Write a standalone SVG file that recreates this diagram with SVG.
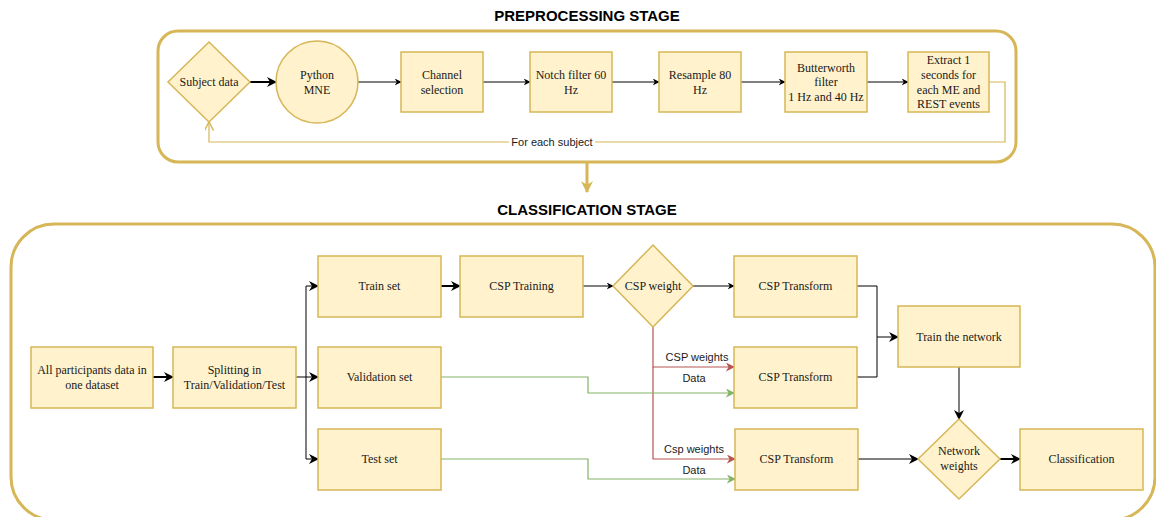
<svg xmlns="http://www.w3.org/2000/svg" width="1156" height="517" viewBox="0 0 1156 517">
<style>
.box{fill:#fff2cc;stroke:#d6b656;stroke-width:1.5}
.t{font-family:"Liberation Serif","Times New Roman",serif;font-size:12px;fill:#1a1a1a;text-anchor:middle}
.s{font-family:"Liberation Sans",Arial,sans-serif;font-size:11px;fill:#1a1a1a;text-anchor:middle}
.h{font-family:"Liberation Sans",Arial,sans-serif;font-size:15px;font-weight:bold;fill:#000;text-anchor:middle}
.stage{fill:none;stroke:#d6b656;stroke-width:3}
.k{fill:none;stroke:#000;stroke-width:1}
.kb{fill:none;stroke:#000;stroke-width:2}
.r{fill:none;stroke:#b85450;stroke-width:1.2}
.g{fill:none;stroke:#82b366;stroke-width:1.2}
.y{fill:none;stroke:#d6b656;stroke-width:1.2}
</style>
<defs>
<marker id="ak" viewBox="0 0 10 10" refX="9" refY="5" markerWidth="7" markerHeight="7" markerUnits="userSpaceOnUse" orient="auto"><path d="M0,0 L10,5 L0,10 L3,5 Z" fill="#000"/></marker>
<marker id="akb" viewBox="0 0 10 10" refX="9" refY="5" markerWidth="10" markerHeight="10" markerUnits="userSpaceOnUse" orient="auto"><path d="M0,0 L10,5 L0,10 L3,5 Z" fill="#000"/></marker>
<marker id="ar" viewBox="0 0 10 10" refX="9" refY="5" markerWidth="9" markerHeight="9" markerUnits="userSpaceOnUse" orient="auto"><path d="M0,0 L10,5 L0,10 L3,5 Z" fill="#b85450"/></marker>
<marker id="ag" viewBox="0 0 10 10" refX="9" refY="5" markerWidth="9" markerHeight="9" markerUnits="userSpaceOnUse" orient="auto"><path d="M0,0 L10,5 L0,10 L3,5 Z" fill="#82b366"/></marker>
<marker id="ay" viewBox="0 0 10 10" refX="9" refY="5" markerWidth="9" markerHeight="9" markerUnits="userSpaceOnUse" orient="auto"><path d="M0,0 L10,5 L0,10" fill="none" stroke="#d6b656" stroke-width="1.5"/></marker>
<marker id="ayb" viewBox="0 0 10 10" refX="9" refY="5" markerWidth="12" markerHeight="12" markerUnits="userSpaceOnUse" orient="auto"><path d="M0,0 L10,5 L0,10 L3,5 Z" fill="#d6b656"/></marker>
</defs>

<rect id="white" x="0" y="0" width="1156" height="517" fill="#fff"/>

<g id="titles">
<text class="h" x="587" y="21">PREPROCESSING STAGE</text>
<text class="h" x="587" y="215">CLASSIFICATION STAGE</text>
</g>

<g id="preprocessing-stage"><rect class="stage" x="158" y="31" width="858" height="131" rx="20"/></g>
<g id="classification-stage"><rect class="stage" x="11" y="224" width="1144" height="296" rx="43"/></g>

<g id="connectors">
<path class="kb" d="M250,82 H276" marker-end="url(#akb)"/>
<path class="k" d="M358,82 H401" marker-end="url(#ak)"/>
<path class="k" d="M483,82 H530" marker-end="url(#ak)"/>
<path class="k" d="M612,82 H659" marker-end="url(#ak)"/>
<path class="k" d="M741,82 H785" marker-end="url(#ak)"/>
<path class="k" d="M867,82 H908" marker-end="url(#ak)"/>
<path class="y" d="M989,82 H1005 V142 H209 V122.5" marker-end="url(#ay)"/>
<path fill="none" stroke="#d6b656" stroke-width="3" d="M587,162 V192" marker-end="url(#ayb)"/>

<path class="kb" d="M153,377 H173" marker-end="url(#akb)"/>
<path class="k" stroke-width="1.5" d="M296,377 H318" marker-end="url(#akb)"/>
<path class="k" stroke-width="1.5" d="M306,377 V286 H318" marker-end="url(#akb)"/>
<path class="k" stroke-width="1.5" d="M306,377 V459 H318" marker-end="url(#akb)"/>
<path class="kb" d="M441,286 H460" marker-end="url(#akb)"/>
<path class="k" stroke="#333" d="M583,286 H613" marker-end="url(#ak)"/>
<path class="k" stroke="#333" d="M693,286 H734" marker-end="url(#ak)"/>
<path class="r" d="M653,327 V367 H734" marker-end="url(#ar)"/>
<path class="r" d="M653,367 V459 H735" marker-end="url(#ar)"/>
<path class="g" d="M441,377 H588 V393 H734" marker-end="url(#ag)"/>
<path class="g" d="M441,459 H588 V479 H735" marker-end="url(#ag)"/>
<path class="k" stroke="#333" stroke-width="1.2" d="M857,286 H877 V377 H857"/>
<path class="k" stroke-width="1.5" d="M877,337 H898" marker-end="url(#akb)"/>
<path class="k" stroke="#333" d="M959,367 V419" marker-end="url(#akb)"/>
<path class="k" d="M858,459 H918" marker-end="url(#akb)"/>
<path class="kb" d="M1000,459 H1020" marker-end="url(#akb)"/>

<rect x="509" y="135" width="86" height="14" fill="#fff"/>
<text class="s" x="552" y="146">For each subject</text>
<text class="s" x="697" y="361">CSP weights</text>
<text class="s" x="694" y="382">Data</text>
<text class="s" x="694" y="453">Csp weights</text>
<text class="s" x="694" y="474">Data</text>
</g>

<g id="subject-data"><path class="box" d="M209,42 L250,82 L209,122 L168,82 Z"/><text class="t" x="209" y="86">Subject data</text></g>
<g id="python-mne"><circle class="box" cx="317" cy="82" r="41"/><text class="t" x="317" y="79">Python</text><text class="t" x="317" y="94">MNE</text></g>
<g id="channel-selection"><rect class="box" x="401" y="52" width="82" height="60"/><text class="t" x="442" y="79">Channel</text><text class="t" x="442" y="94">selection</text></g>
<g id="notch-filter"><rect class="box" x="530" y="52" width="82" height="60"/><text class="t" x="571" y="79">Notch filter 60</text><text class="t" x="571" y="94">Hz</text></g>
<g id="resample"><rect class="box" x="659" y="52" width="82" height="60"/><text class="t" x="700" y="79">Resample 80</text><text class="t" x="700" y="94">Hz</text></g>
<g id="butterworth"><rect class="box" x="785" y="52" width="82" height="60"/><text class="t" x="826" y="72">Butterworth</text><text class="t" x="826" y="86">filter</text><text class="t" x="826" y="101">1 Hz and 40 Hz</text></g>
<g id="extract"><rect class="box" x="908" y="52" width="81" height="60"/><text class="t" x="948.5" y="64">Extract 1</text><text class="t" x="948.5" y="79">seconds for</text><text class="t" x="948.5" y="94">each ME and</text><text class="t" x="948.5" y="108">REST events</text></g>

<g id="all-participants"><rect class="box" x="31" y="347" width="122" height="61"/><text class="t" x="92" y="374">All participants data in</text><text class="t" x="92" y="389">one dataset</text></g>
<g id="splitting"><rect class="box" x="173" y="347" width="123" height="61"/><text class="t" x="234.5" y="374">Splitting in</text><text class="t" x="234.5" y="389">Train/Validation/Test</text></g>
<g id="train-set"><rect class="box" x="318" y="256" width="123" height="61"/><text class="t" x="379.5" y="290">Train set</text></g>
<g id="validation-set"><rect class="box" x="318" y="347" width="123" height="61"/><text class="t" x="379.5" y="381">Validation set</text></g>
<g id="test-set"><rect class="box" x="318" y="429" width="123" height="61"/><text class="t" x="379.5" y="463">Test set</text></g>
<g id="csp-training"><rect class="box" x="460" y="256" width="123" height="61"/><text class="t" x="521.5" y="290">CSP Training</text></g>
<g id="csp-weight"><path class="box" d="M653,245 L693,286 L653,327 L613,286 Z"/><text class="t" x="653" y="290">CSP weight</text></g>
<g id="csp-transform-1"><rect class="box" x="734" y="256" width="123" height="61"/><text class="t" x="795.5" y="290">CSP Transform</text></g>
<g id="csp-transform-2"><rect class="box" x="734" y="347" width="123" height="61"/><text class="t" x="795.5" y="381">CSP Transform</text></g>
<g id="csp-transform-3"><rect class="box" x="735" y="429" width="123" height="61"/><text class="t" x="796.5" y="463">CSP Transform</text></g>
<g id="train-network"><rect class="box" x="898" y="306" width="122" height="61"/><text class="t" x="959" y="341">Train the network</text></g>
<g id="network-weights"><path class="box" d="M959,419 L1000,459 L959,499 L918,459 Z"/><text class="t" x="959" y="455">Network</text><text class="t" x="959" y="470">weights</text></g>
<g id="classification"><rect class="box" x="1020" y="429" width="123" height="61"/><text class="t" x="1081.5" y="463">Classification</text></g>
</svg>
